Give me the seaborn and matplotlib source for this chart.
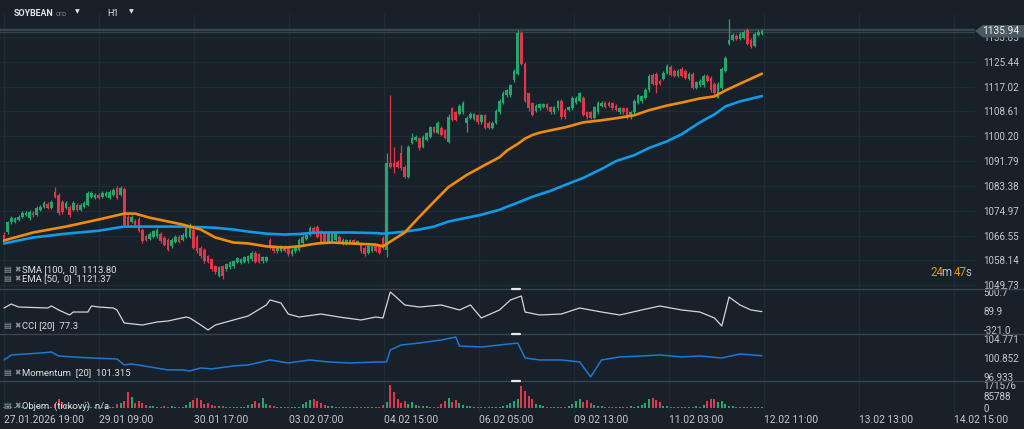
import numpy as np
import pandas as pd
import seaborn as sns
import matplotlib.pyplot as plt
from matplotlib.lines import Line2D
from matplotlib.patches import Polygon

# hourly candles, SOYBEAN CFD (H1)
opens = [1066.9, 1067.6, 1071.0, 1071.3, 1072.0, 1073.0, 1073.6, 1072.6, 1074.3, 1073.6,
         1075.3, 1076.3, 1077.3, 1076.0, 1081.3, 1080.3, 1078.0, 1076.0, 1076.3, 1075.3,
         1077.0, 1075.3, 1076.3, 1077.0, 1079.7, 1079.3, 1080.3, 1079.7, 1080.0, 1079.3,
         1080.3, 1082.7, 1080.3, 1082.3, 1073.0, 1071.3, 1071.6, 1072.3, 1068.6, 1066.3,
         1065.3, 1066.0, 1066.3, 1067.0, 1065.9, 1065.2, 1062.9, 1064.5, 1066.2, 1065.2,
         1066.2, 1066.2, 1068.6, 1066.2, 1062.5, 1061.8, 1059.5, 1058.5, 1056.1, 1052.8,
         1056.1, 1055.1, 1055.8, 1056.1, 1057.5, 1057.2, 1057.5, 1057.8, 1058.5, 1060.8,
         1060.2, 1057.8, 1058.1, 1065.2, 1062.9, 1061.2, 1061.5, 1062.9, 1062.5, 1060.2,
         1061.2, 1061.8, 1064.2, 1065.5, 1066.9, 1069.2, 1069.6, 1067.9, 1067.6, 1064.5,
         1064.5, 1065.2, 1066.2, 1063.9, 1063.9, 1064.5, 1064.9, 1064.2, 1063.5, 1062.5,
         1060.8, 1061.5, 1062.9, 1062.9, 1065.9, 1061.8, 1091.1, 1091.1, 1091.5, 1094.5,
         1089.8, 1086.4, 1097.9, 1098.9, 1099.5, 1096.5, 1098.9, 1099.9, 1103.2, 1101.2,
         1102.9, 1102.2, 1098.2, 1109.6, 1108.3, 1107.9, 1108.3, 1104.6, 1106.3, 1106.0,
         1107.3, 1104.9, 1107.3, 1104.6, 1102.9, 1104.6, 1108.3, 1111.6, 1114.0, 1114.0,
         1119.1, 1121.4, 1135.2, 1124.8, 1114.7, 1111.3, 1108.9, 1109.6, 1110.0, 1111.0,
         1110.0, 1108.3, 1109.6, 1112.3, 1109.0, 1109.0, 1109.6, 1111.6, 1112.3, 1113.3,
         1108.3, 1108.3, 1106.3, 1108.3, 1110.6, 1111.6, 1111.6, 1111.3, 1110.6, 1108.3,
         1109.6, 1109.6, 1106.6, 1108.3, 1111.6, 1112.0, 1113.3, 1115.7, 1121.0, 1121.4,
         1119.0, 1119.7, 1121.7, 1123.8, 1122.4, 1120.7, 1123.1, 1122.4, 1119.7, 1121.4,
         1116.7, 1117.4, 1117.4, 1120.7, 1120.0, 1118.0, 1113.3, 1116.7, 1122.4, 1131.5,
         1132.9, 1134.2, 1133.2, 1133.5, 1136.2, 1132.9, 1130.9, 1134.5, 1134.9]
closes = [1064.5, 1071.0, 1072.6, 1072.6, 1073.0, 1074.3, 1074.3, 1074.6, 1073.6, 1076.0,
          1076.3, 1077.6, 1076.0, 1078.0, 1079.7, 1074.3, 1074.6, 1077.6, 1073.6, 1077.6,
          1075.3, 1077.0, 1077.6, 1081.0, 1081.0, 1080.3, 1079.3, 1081.0, 1081.0, 1081.3,
          1082.0, 1079.3, 1082.7, 1070.3, 1070.3, 1073.0, 1070.0, 1068.0, 1064.6, 1065.0,
          1067.0, 1068.0, 1068.6, 1064.6, 1063.5, 1061.8, 1065.2, 1066.2, 1064.5, 1066.9,
          1069.2, 1069.6, 1062.5, 1061.2, 1059.5, 1057.8, 1057.5, 1055.1, 1054.1, 1055.8,
          1052.8, 1056.8, 1057.5, 1057.8, 1058.8, 1058.5, 1059.2, 1059.5, 1060.8, 1057.5,
          1057.5, 1059.2, 1059.2, 1062.5, 1061.2, 1062.5, 1062.9, 1061.5, 1060.2, 1061.8,
          1062.9, 1065.2, 1066.2, 1066.9, 1069.2, 1067.6, 1066.2, 1064.5, 1064.5, 1067.2,
          1067.6, 1067.6, 1064.5, 1065.2, 1064.9, 1064.9, 1064.2, 1064.5, 1061.2, 1060.2,
          1062.9, 1062.9, 1061.5, 1060.8, 1062.5, 1091.1, 1089.8, 1089.8, 1089.8, 1089.4,
          1086.4, 1096.5, 1099.5, 1099.9, 1096.2, 1099.9, 1101.2, 1103.2, 1101.6, 1104.6,
          1100.6, 1099.5, 1106.6, 1105.6, 1105.6, 1110.6, 1111.6, 1106.3, 1107.9, 1107.6,
          1104.9, 1107.3, 1102.9, 1102.9, 1104.6, 1108.9, 1112.3, 1115.0, 1115.7, 1117.4,
          1122.4, 1135.2, 1124.8, 1112.3, 1109.6, 1107.3, 1110.6, 1111.0, 1111.0, 1109.6,
          1108.3, 1110.0, 1112.0, 1106.6, 1106.6, 1110.0, 1113.3, 1113.3, 1114.7, 1107.3,
          1106.6, 1106.3, 1110.0, 1111.6, 1111.6, 1110.0, 1110.6, 1109.6, 1109.0, 1109.6,
          1108.3, 1106.3, 1108.3, 1112.3, 1114.0, 1113.7, 1116.0, 1120.7, 1118.0, 1117.4,
          1118.0, 1121.7, 1124.1, 1121.0, 1120.7, 1122.4, 1120.7, 1120.0, 1121.4, 1116.7,
          1118.4, 1119.0, 1120.7, 1119.0, 1115.7, 1114.7, 1118.0, 1123.1, 1126.8, 1132.9,
          1134.6, 1133.2, 1134.9, 1135.5, 1131.5, 1130.5, 1134.9, 1135.5, 1135.94]
highs = [1067.6, 1071.6, 1073.3, 1073.0, 1073.6, 1074.9, 1075.0, 1075.3, 1074.9, 1076.6,
         1077.0, 1078.3, 1077.9, 1078.7, 1083.0, 1081.0, 1078.7, 1078.3, 1077.0, 1078.3,
         1077.6, 1077.6, 1078.3, 1081.7, 1081.7, 1081.0, 1081.0, 1081.7, 1081.7, 1082.0,
         1082.7, 1083.3, 1083.4, 1082.9, 1073.6, 1073.6, 1072.3, 1072.9, 1069.2, 1066.9,
         1067.6, 1068.6, 1069.2, 1067.6, 1066.5, 1065.8, 1065.8, 1066.8, 1066.8, 1067.5,
         1069.8, 1070.9, 1069.9, 1066.8, 1063.1, 1062.4, 1060.1, 1059.1, 1056.7, 1056.4,
         1056.7, 1057.4, 1058.1, 1058.4, 1059.4, 1059.1, 1059.8, 1060.1, 1061.4, 1061.4,
         1060.8, 1059.8, 1059.8, 1065.9, 1063.5, 1063.1, 1063.5, 1063.5, 1063.1, 1062.4,
         1063.5, 1065.8, 1066.8, 1067.5, 1069.8, 1069.8, 1070.2, 1068.5, 1068.2, 1067.8,
         1068.2, 1068.2, 1066.8, 1065.8, 1065.5, 1065.5, 1065.5, 1065.1, 1064.1, 1063.1,
         1063.5, 1063.5, 1063.5, 1063.5, 1066.5, 1094.5, 1114.0, 1096.5, 1092.1, 1097.2,
         1090.4, 1097.1, 1101.2, 1100.5, 1100.1, 1100.5, 1101.8, 1103.8, 1103.8, 1105.2,
         1103.5, 1102.8, 1107.9, 1110.2, 1108.9, 1111.2, 1112.2, 1106.9, 1108.5, 1108.2,
         1107.9, 1107.9, 1107.9, 1105.2, 1105.2, 1109.5, 1112.9, 1115.6, 1116.3, 1118.0,
         1123.0, 1136.2, 1135.8, 1125.4, 1115.0, 1111.9, 1111.2, 1111.6, 1111.6, 1111.6,
         1110.6, 1110.6, 1112.6, 1112.9, 1109.6, 1110.6, 1113.9, 1113.9, 1115.3, 1113.9,
         1108.9, 1108.9, 1110.6, 1112.2, 1112.2, 1112.2, 1112.2, 1111.9, 1111.2, 1110.2,
         1110.2, 1110.2, 1108.9, 1112.9, 1114.6, 1114.3, 1116.6, 1121.3, 1121.6, 1122.0,
         1119.6, 1122.3, 1124.7, 1124.4, 1123.0, 1123.0, 1123.7, 1123.0, 1122.0, 1122.0,
         1119.0, 1119.6, 1121.3, 1121.3, 1120.6, 1118.6, 1118.6, 1123.7, 1127.5, 1139.9,
         1135.2, 1134.8, 1135.5, 1136.1, 1136.8, 1133.5, 1135.5, 1136.1, 1136.5]
lows = [1063.9, 1067.2, 1070.6, 1070.9, 1071.6, 1072.6, 1073.2, 1072.0, 1073.0, 1073.2,
        1074.9, 1075.9, 1075.6, 1075.6, 1079.3, 1073.6, 1073.9, 1075.6, 1073.0, 1074.9,
        1074.9, 1074.9, 1075.9, 1076.6, 1079.3, 1078.9, 1078.9, 1079.3, 1079.6, 1078.9,
        1079.9, 1078.9, 1079.9, 1069.6, 1069.9, 1070.9, 1069.6, 1067.6, 1064.2, 1064.6,
        1064.9, 1065.6, 1065.9, 1064.2, 1063.1, 1061.4, 1062.5, 1064.1, 1064.1, 1064.8,
        1065.8, 1065.8, 1062.1, 1060.8, 1059.1, 1057.4, 1057.1, 1054.7, 1053.7, 1052.4,
        1051.7, 1054.7, 1055.4, 1055.7, 1057.1, 1056.8, 1057.1, 1057.4, 1058.1, 1057.1,
        1057.1, 1057.4, 1057.7, 1062.1, 1060.8, 1060.8, 1061.1, 1061.1, 1059.8, 1059.8,
        1060.8, 1061.4, 1063.8, 1065.1, 1066.5, 1067.2, 1065.8, 1064.1, 1064.1, 1064.1,
        1064.1, 1064.8, 1064.1, 1063.5, 1063.5, 1064.1, 1063.8, 1063.8, 1060.8, 1059.8,
        1060.4, 1061.1, 1061.1, 1060.4, 1062.1, 1059.2, 1089.4, 1087.8, 1089.4, 1088.8,
        1086.0, 1086.0, 1097.5, 1098.5, 1095.5, 1096.1, 1098.5, 1099.5, 1101.2, 1100.8,
        1100.2, 1099.1, 1097.9, 1105.2, 1105.2, 1107.5, 1107.9, 1101.6, 1105.9, 1105.6,
        1104.5, 1104.5, 1102.5, 1102.5, 1102.5, 1104.2, 1107.9, 1111.2, 1113.6, 1113.6,
        1118.7, 1121.0, 1124.4, 1111.9, 1108.9, 1106.9, 1108.5, 1109.2, 1109.6, 1109.2,
        1107.9, 1107.9, 1109.2, 1106.2, 1106.2, 1108.6, 1109.2, 1111.2, 1111.9, 1106.9,
        1106.2, 1105.9, 1105.9, 1107.9, 1110.2, 1109.6, 1110.2, 1109.2, 1108.6, 1107.9,
        1107.9, 1105.9, 1106.2, 1107.9, 1111.2, 1111.6, 1112.9, 1115.3, 1117.6, 1115.0,
        1117.6, 1119.3, 1121.3, 1120.6, 1120.3, 1120.3, 1120.3, 1119.6, 1119.3, 1116.3,
        1116.3, 1117.0, 1117.0, 1118.6, 1115.3, 1114.3, 1113.0, 1116.3, 1122.0, 1131.1,
        1132.5, 1132.8, 1132.8, 1133.1, 1131.1, 1130.1, 1130.5, 1134.1, 1134.5]
volumes = [6000, 14000, 9000, 7000, 6000, 8000, 5000, 7000, 6000, 9000,
           7000, 6000, 8000, 5000, 28000, 70000, 42000, 22000, 14000, 11000,
           9000, 8000, 6000, 12000, 7000, 6000, 5000, 6000, 5000, 7000,
           9000, 28000, 35000, 52000, 118000, 80000, 38000, 52000, 40000, 26000,
           18000, 12000, 10000, 9000, 14000, 8000, 12000, 9000, 7000, 10000,
           26000, 48000, 60000, 72000, 58000, 30000, 38000, 22000, 16000, 12000,
           14000, 9000, 8000, 7000, 6000, 8000, 9000, 22000, 30000, 55000,
           40000, 75000, 32000, 20000, 14000, 11000, 9000, 7000, 6000, 8000,
           10000, 9000, 28000, 45000, 62000, 70000, 55000, 40000, 26000, 18000,
           12000, 9000, 8000, 6000, 5000, 4000, 5000, 4000, 6000, 9000,
           7000, 8000, 6000, 9000, 25000, 45000, 171576, 120000, 65000, 40000,
           55000, 30000, 48000, 22000, 15000, 18000, 12000, 10000, 9000, 8000,
           28000, 50000, 72000, 45000, 58000, 38000, 22000, 18000, 14000, 10000,
           8000, 7000, 6000, 9000, 6000, 5000, 7000, 12000, 20000, 35000,
           55000, 70000, 165000, 125000, 90000, 65000, 30000, 22000, 14000, 10000,
           9000, 8000, 7000, 9000, 10000, 12000, 30000, 55000, 70000, 45000,
           60000, 40000, 22000, 15000, 12000, 9000, 8000, 7000, 6000, 8000,
           10000, 9000, 12000, 8000, 14000, 20000, 40000, 65000, 72000, 60000,
           45000, 18000, 12000, 9000, 8000, 7000, 6000, 9000, 8000, 7000,
           12000, 10000, 25000, 50000, 65000, 70000, 48000, 55000, 30000, 18000,
           14000, 10000, 8000, 7000, 6000, 9000, 8000, 6000, 5000]

# moving averages read at selected bars
ma_idx = [0, 8, 17, 26, 33, 36, 40, 49, 54, 58, 63, 67, 72, 77, 81, 86, 90, 95, 102, 104,
          106, 110, 114, 118, 122, 127, 131, 136, 138, 141, 143, 145, 147, 150, 154, 159,
          164, 168, 173, 177, 182, 186, 191, 195, 198, 202, 208]
sma_100 = [1063.9, 1065.9, 1067.2, 1068.2, 1069.6, 1069.6, 1069.6, 1069.6, 1069.4, 1069.2,
           1068.6, 1067.9, 1067.2, 1066.9, 1067.1, 1067.6, 1067.6, 1067.6, 1067.4, 1067.2,
           1067.4, 1067.9, 1068.6, 1069.6, 1071.3, 1072.6, 1073.6, 1075.3, 1076.3, 1077.7,
           1078.7, 1079.7, 1080.5, 1081.7, 1083.7, 1086.1, 1089.1, 1091.8, 1093.8, 1096.2,
           1098.5, 1100.9, 1104.9, 1107.6, 1110.3, 1112.0, 1113.8]
ema_50 = [1064.9, 1067.6, 1069.6, 1072.0, 1074.0, 1074.0, 1072.6, 1070.3, 1068.6, 1065.9,
          1064.2, 1063.9, 1062.9, 1062.5, 1062.9, 1063.9, 1064.2, 1063.9, 1063.5, 1062.9,
          1064.5, 1067.6, 1072.9, 1078.0, 1083.0, 1087.1, 1089.8, 1093.1, 1095.3, 1097.6,
          1099.4, 1100.6, 1101.4, 1102.2, 1103.2, 1104.9, 1105.6, 1106.3, 1107.3, 1109.0,
          1110.6, 1111.6, 1113.0, 1113.7, 1115.7, 1118.0, 1121.37]

cci_idx = [0, 2, 4, 12, 13, 15, 18, 19, 23, 24, 26, 30, 31, 33, 38, 42, 45, 50, 51, 54,
           56, 58, 63, 67, 72, 73, 76, 78, 81, 87, 92, 98, 102, 104, 106, 107, 110, 114, 120, 125,
           128, 131, 136, 139, 142, 143, 147, 153, 158, 164, 169, 175, 180, 186, 191, 195, 197,
           199, 202, 205, 208]
cci_vals = [155, 241, 176, 155, 198, 112, 4, 68, 68, 198, 176, 155, 112, -169, -212, -148, -126,
            -40, -61, -212, -320, -212, -104, -18, 220, 328, 263, 25, -40, 25, -40, -104, -40,
            -61, 500, 435, 220, 176, 220, 112, 220, -61, 112, 328, 414, 68, 4, 25, 155, 68, 4,
            112, 198, 112, 68, -61, -234, 392, 220, 112, 77.3]

mom_idx = [0, 2, 6, 10, 13, 15, 19, 24, 31, 33, 35, 40, 45, 49, 51, 54, 57, 63, 67, 73,
           78, 84, 89, 95, 103, 105, 106, 109, 114, 120, 124, 125, 131, 136, 141, 143, 147,
           153, 158, 161, 164, 169, 175, 180, 186, 191, 197, 202, 208]
mom_vals = [100.44, 101.47, 101.68, 101.88, 102.09, 101.26, 101.06, 100.85, 100.65, 99.41,
            99.62, 99.0, 98.38, 98.38, 98.17, 98.79, 98.59, 99.2, 99.41, 100.44,
            99.82, 100.44, 100.03, 99.82, 100.03, 100.03, 102.5, 103.53, 103.94, 104.56,
            105.18, 103.32, 103.12, 103.53, 103.94, 100.85, 100.44, 100.44, 100.03, 96.94,
            100.44, 101.06, 101.26, 101.47, 101.06, 101.26, 100.85, 101.68, 101.315]

price_ticks = [1049.73, 1058.14, 1066.55, 1074.97, 1083.38, 1091.79, 1100.20, 1108.61,
               1117.02, 1125.44, 1133.85]
cci_ticks = [500.7, 89.9, -321.0]
mom_ticks = [104.771, 100.852, 96.933]
vol_ticks = [171576, 85788, 0]
time_labels = ['27.01.2026 19:00', '29.01 09:00', '30.01 17:00', '03.02 07:00',
               '04.02 15:00', '06.02 05:00', '09.02 13:00', '11.02 03:00',
               '12.02 11:00', '13.02 13:00', '14.02 15:00']

BG = '#18212a'
GRID = '#212b34'
SEP = '#3a444e'
TXT = '#c5c9cd'
GREEN = '#22a86a'
RED = '#e2364b'
BLUE = '#0f9be8'
ORANGE = '#f08b0c'

sns.set_theme(style='dark', rc={'axes.facecolor': BG, 'figure.facecolor': BG})
plt.rcParams['font.family'] = ['Roboto', 'DejaVu Sans']

bars = pd.DataFrame({'open': opens, 'close': closes, 'high': highs, 'low': lows,
                     'volume': volumes})
bars['idx'] = np.arange(len(bars))
colors = np.where(bars['close'] >= bars['open'], GREEN, RED)

W, H = 1024, 429
fig = plt.figure(figsize=(W / 100, H / 100), dpi=100)


def panel(top, bottom):
    return fig.add_axes([0, 1 - bottom / H, 975 / W, (bottom - top) / H])


ax = panel(14, 288)
ax_cci = panel(289, 333)
ax_mom = panel(335, 380)
ax_vol = panel(382, 412)

label_step = 26.07
xticks = np.arange(len(time_labels)) * label_step
for a in (ax, ax_cci, ax_mom, ax_vol):
    a.set_facecolor(BG)
    a.set_xlim(-1.1, 266.5)
    a.set_xticks(xticks)
    a.set_xticklabels([])
    a.grid(True, axis='x', color=GRID, lw=0.9)
    a.grid(False, axis='y')
    for s in a.spines.values():
        s.set_visible(False)
    a.yaxis.tick_right()
    a.tick_params(axis='both', length=0, labelsize=7.1, labelcolor=TXT, pad=6)

# price panel
ax.set_ylim(1048.8, 1141.6)
ax.set_yticks(price_ticks)
ax.set_yticklabels([f'{v:.2f}' for v in price_ticks])
ax.grid(True, axis='y', color=GRID, lw=0.9)
ax.vlines(bars['idx'], bars['low'], bars['high'], colors=colors, lw=0.9, zorder=3)
body = (bars['close'] - bars['open']).abs().clip(lower=0.35)
ax.bar(bars['idx'], body, bottom=bars[['open', 'close']].min(axis=1), width=0.72,
       color=colors, linewidth=0, zorder=3)
sns.lineplot(x=ma_idx, y=sma_100, ax=ax, color=BLUE, lw=1.9, sort=False, zorder=4)
sns.lineplot(x=ma_idx, y=ema_50, ax=ax, color=ORANGE, lw=1.9, sort=False, zorder=5)
ax.axhline(closes[-1], color='#3b4751', lw=3.2, zorder=2)
ax.axhline(closes[-1], color='#222c35', lw=1.0, zorder=2)

# CCI
ax_cci.set_ylim(-385, 565)
ax_cci.set_yticks(cci_ticks)
ax_cci.set_yticklabels(['500.7', '89.9', '-321.0'])
sns.lineplot(x=cci_idx, y=cci_vals, ax=ax_cci, color='#d4d6d8', lw=0.9, sort=False)

# Momentum
ax_mom.set_ylim(96.3, 105.6)
ax_mom.set_yticks(mom_ticks)
ax_mom.set_yticklabels(['104.771', '100.852', '96.933'])
sns.lineplot(x=mom_idx, y=mom_vals, ax=ax_mom, color='#1e78d2', lw=1.1, sort=False)

# Volume
ax_vol.set_ylim(-30000, 194000)
ax_vol.set_yticks(vol_ticks)
ax_vol.set_yticklabels(['171576', '85788', '0'])
ax_vol.bar(bars['idx'], bars['volume'], width=0.55, color=colors, linewidth=0)
ax_vol.set_xticklabels(time_labels, ha='left', fontsize=7.4)
ax_vol.tick_params(axis='x', pad=2)
for a in (ax, ax_cci, ax_mom, ax_vol):
    a.set_xlabel('')
    a.set_ylabel('')


def fx(x):
    return x / W


def fy(y):
    return 1 - y / H


# separators and handles
for y in (288.5, 334, 381):
    fig.add_artist(Line2D([0, 1], [fy(y), fy(y)], color=SEP, lw=1.0))
    fig.add_artist(Line2D([fx(512), fx(520)], [fy(y), fy(y)], color='#e8e8e8', lw=1.6))

# current price tag
tag = Polygon([(fx(975), fy(31)), (fx(983), fy(25)), (fx(1024), fy(25)),
               (fx(1024), fy(37.5)), (fx(983), fy(37.5))], closed=True,
              transform=fig.transFigure, facecolor='#4c5862', edgecolor='none')
fig.add_artist(tag)
fig.text(fx(982), fy(31.5), '1135.94', color='#f2f3f4', fontsize=7.3, va='center')

# header
fig.text(fx(14), fy(13), 'SOYBEAN', color='#e4e6e8', fontsize=6.4, fontweight='bold',
         va='center')
fig.text(fx(56), fy(14), 'CFD', color='#8a939a', fontsize=4.3, va='center')
fig.text(fx(75), fy(12), '▼', color='#e4e6e8', fontsize=4.5, va='center')
fig.text(fx(107), fy(14), 'H1', color='#e4e6e8', fontsize=6.5, va='center')
fig.text(fx(129), fy(12), '▼', color='#e4e6e8', fontsize=4.5, va='center')

# legends
legends = [(270, 'SMA [100,  0]  1113.80'), (279, 'EMA [50,  0]  1121.37'),
           (326, 'CCI [20]  77.3'), (373, 'Momentum  [20]  101.315'),
           (406, 'Objem  (tickový)  n/a')]
for y, label in legends:
    fig.text(fx(3), fy(y), '▤', color='#8c959c', fontsize=6, va='center')
    fig.text(fx(14), fy(y), '✖', color='#8c959c', fontsize=5.5, va='center')
    fig.text(fx(22), fy(y), label, color='#dfe1e3', fontsize=6.8, va='center')

# countdown
fig.text(fx(930), fy(272), '24', color='#e8940e', fontsize=8.3, va='center')
fig.text(fx(941), fy(272), 'm', color='#b8bdc2', fontsize=8.3, va='center')
fig.text(fx(954), fy(272), '47', color='#e8940e', fontsize=8.3, va='center')
fig.text(fx(965), fy(272), 's', color='#b8bdc2', fontsize=8.3, va='center')

fig.savefig('out.png', dpi=100, facecolor=BG)
